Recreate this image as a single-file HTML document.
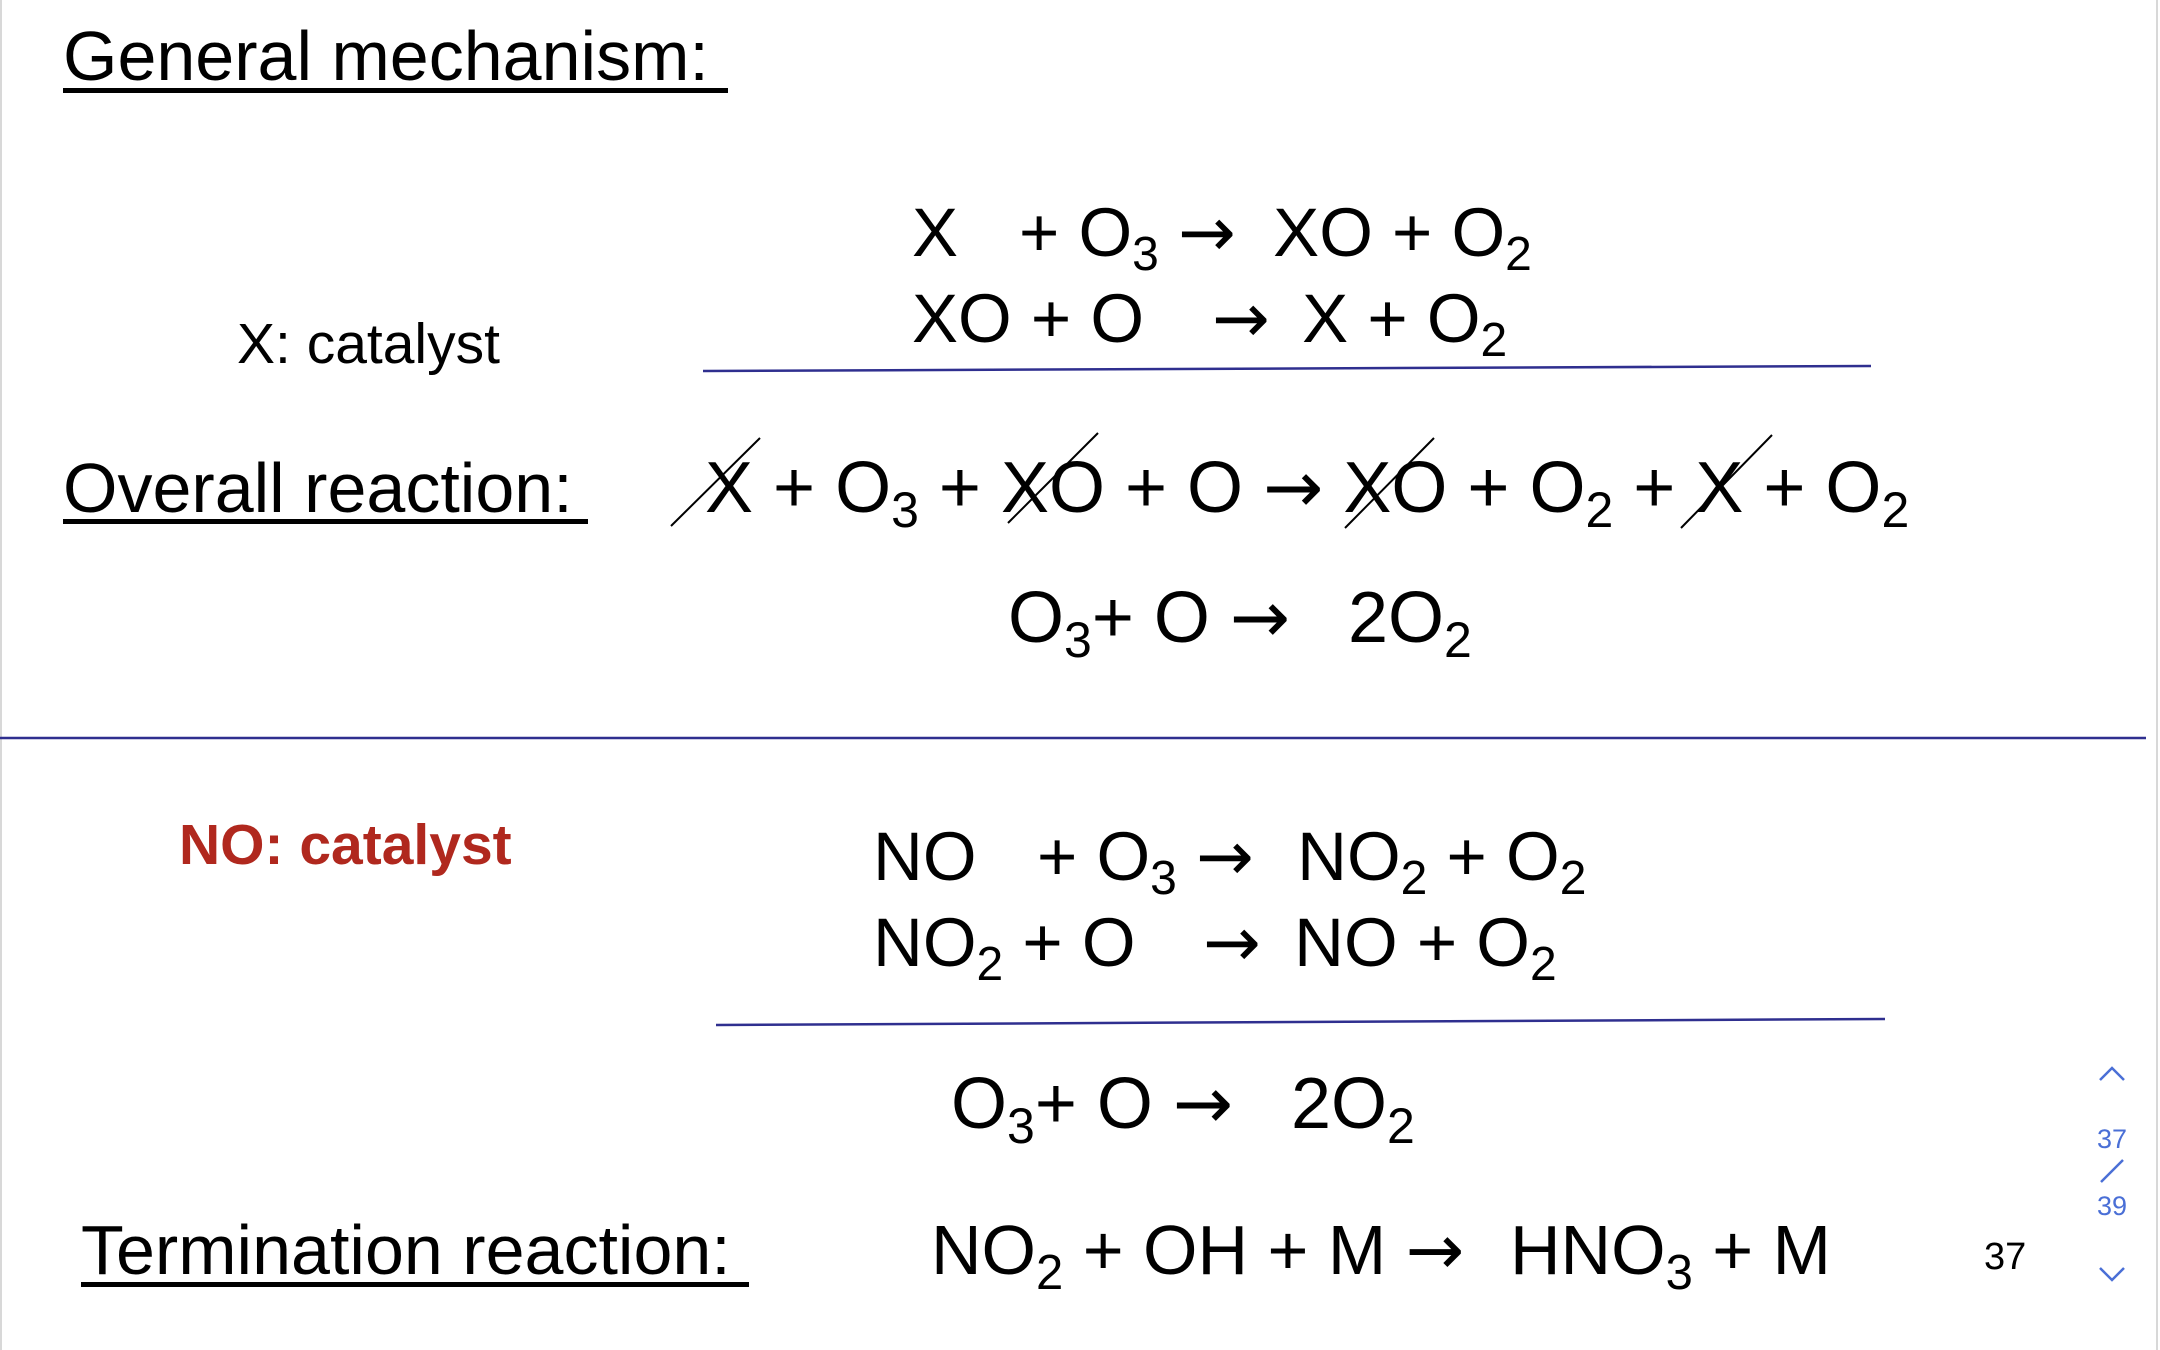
<!DOCTYPE html>
<html><head><meta charset="utf-8"><style>
html,body{margin:0;padding:0;background:#fff}
svg{display:block}
text{font-family:"Liberation Sans",Arial,sans-serif;fill:#000;white-space:pre}
.a{font-family:"DejaVu Sans",sans-serif}
</style></head><body>
<svg width="2160" height="1350" viewBox="0 0 2160 1350" xmlns="http://www.w3.org/2000/svg">
<rect x="0" y="0" width="2160" height="1350" fill="#fff"/>
<line x1="1" y1="0" x2="1" y2="1350" stroke="#d8d8d8" stroke-width="2"/>
<line x1="2157" y1="0" x2="2157" y2="1350" stroke="#d8d8d8" stroke-width="2"/>

<text x="63" y="80" font-size="70">General mechanism:</text>
<rect x="63" y="88" width="665" height="5" fill="#000"/>

<text x="912" y="256" font-size="69">X</text>
<text x="1019" y="256" font-size="69">+ O<tspan font-size="48" dy="14">3</tspan><tspan dy="-14"> </tspan><tspan class="a">→</tspan><tspan x="1254"> XO + O</tspan><tspan font-size="48" dy="14">2</tspan></text>
<text x="912" y="342" font-size="69">XO + O</text>
<text x="1212" y="342" font-size="69"><tspan class="a">→</tspan><tspan x="1283"> X + O</tspan><tspan font-size="48" dy="14">2</tspan></text>

<text x="237" y="363" font-size="57">X: catalyst</text>
<line x1="703" y1="371" x2="1871" y2="366" stroke="#2f2f8f" stroke-width="2.5"/>

<text x="63" y="512" font-size="70">Overall reaction:</text>
<rect x="63" y="519" width="525" height="5" fill="#000"/>
<text x="705" y="512" font-size="72">X + O<tspan font-size="50" dy="15">3</tspan><tspan dy="-15"> + XO + O </tspan><tspan class="a">→</tspan> XO + O<tspan font-size="50" dy="15">2</tspan><tspan dy="-15"> + X + O</tspan><tspan font-size="50" dy="15">2</tspan></text>
<g stroke="#000" stroke-width="2">
<line x1="671" y1="526" x2="760" y2="438"/>
<line x1="1008" y1="523" x2="1098" y2="433"/>
<line x1="1345" y1="528" x2="1434" y2="438"/>
<line x1="1681" y1="528" x2="1772" y2="435"/>
</g>
<text x="1008" y="642" font-size="72">O<tspan font-size="50" dy="15">3</tspan><tspan dy="-15">+ O </tspan><tspan class="a">→</tspan><tspan x="1348">2O</tspan><tspan font-size="50" dy="15">2</tspan></text>

<line x1="0" y1="738" x2="2146" y2="738" stroke="#2f2f8f" stroke-width="2.5"/>

<text x="179" y="864" font-size="57" font-weight="bold" style="fill:#b0281e">NO: catalyst</text>
<text x="873" y="880" font-size="69">NO</text>
<text x="1037" y="880" font-size="69">+ O<tspan font-size="48" dy="14">3</tspan><tspan dy="-14"> </tspan><tspan class="a">→</tspan><tspan x="1278"> NO</tspan><tspan font-size="48" dy="14">2</tspan><tspan dy="-14"> + O</tspan><tspan font-size="48" dy="14">2</tspan></text>
<text x="873" y="966" font-size="69">NO<tspan font-size="48" dy="14">2</tspan><tspan dy="-14"> + O</tspan></text>
<text x="1203" y="966" font-size="69"><tspan class="a">→</tspan><tspan x="1275"> NO + O</tspan><tspan font-size="48" dy="14">2</tspan></text>
<line x1="716" y1="1025" x2="1885" y2="1019" stroke="#2f2f8f" stroke-width="2.5"/>

<text x="951" y="1128" font-size="72">O<tspan font-size="50" dy="15">3</tspan><tspan dy="-15">+ O </tspan><tspan class="a">→</tspan><tspan x="1291">2O</tspan><tspan font-size="50" dy="15">2</tspan></text>

<text x="81" y="1274" font-size="70">Termination reaction:</text>
<rect x="81" y="1282" width="668" height="5" fill="#000"/>
<text x="931" y="1274" font-size="70">NO<tspan font-size="49" dy="15">2</tspan><tspan dy="-15"> + OH + M </tspan><tspan class="a">→</tspan><tspan x="1510">HNO</tspan><tspan font-size="49" dy="15">3</tspan><tspan dy="-15"> + M</tspan></text>
<text x="1984" y="1269" font-size="38">37</text>

<g stroke="#4a6fd6" stroke-width="2.5" fill="none">
<polyline points="2100,1080 2112,1068 2124,1080"/>
<polyline points="2100,1268 2112,1280 2124,1268"/>
<line x1="2101" y1="1182" x2="2123" y2="1160"/>
</g>
<text x="2112" y="1148" font-size="27" text-anchor="middle" style="fill:#4a6fd6">37</text>
<text x="2112" y="1215" font-size="27" text-anchor="middle" style="fill:#4a6fd6">39</text>
</svg>
</body></html>
